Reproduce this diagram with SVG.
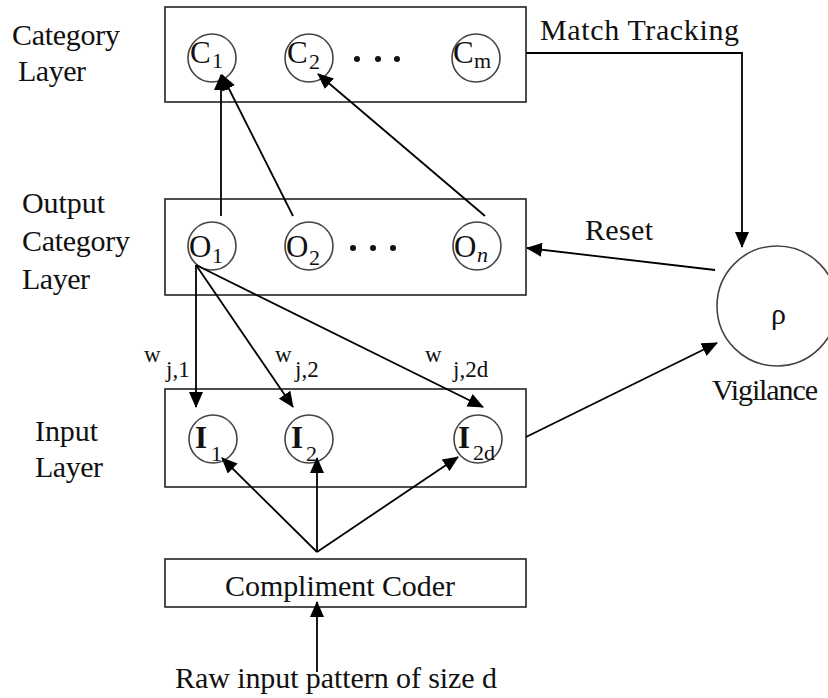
<svg xmlns="http://www.w3.org/2000/svg" width="828" height="698" viewBox="0 0 828 698">
<defs>
<marker id="ah" markerUnits="userSpaceOnUse" markerWidth="16" markerHeight="14" refX="15" refY="7" orient="auto">
<path d="M0,0 L16,7 L0,14 Z" fill="#000"/>
</marker>
<style>
text{font-family:'Liberation Serif','DejaVu Serif',serif;fill:#111}
.box{fill:none;stroke:#222;stroke-width:1.6}
.nd{fill:#fff;stroke:#444;stroke-width:1.6}
.t{font-size:30px}
.m{font-size:31px}
.s{font-size:22px}
.b{font-weight:bold}
.w{font-size:23px}
.ca{fill:none;stroke:#000;stroke-width:1.8;marker-end:url(#ah)}
</style>
</defs>
<rect width="828" height="698" fill="#fff"/>

<g id="labels">
<text class="t" x="12" y="45" textLength="108">Category</text>
<text class="t" x="18" y="81" textLength="68">Layer</text>
<text class="t" x="22" y="213" textLength="83">Output</text>
<text class="t" x="22" y="251" textLength="108">Category</text>
<text class="t" x="22" y="289" textLength="68">Layer</text>
<text class="t" x="35" y="441" textLength="63">Input</text>
<text class="t" x="35" y="477" textLength="68">Layer</text>
</g>

<g id="category-layer">
<rect class="box" x="165" y="7" width="361" height="95"/>
<g id="C1"><circle class="nd" cx="212" cy="58" r="24"/><text class="m" x="190" y="63">C</text><text class="s" x="212" y="68">1</text></g>
<g id="C2"><circle class="nd" cx="309" cy="58" r="24"/><text class="m" x="287" y="63">C</text><text class="s" x="309" y="69">2</text></g>
<g id="Cm"><circle class="nd" cx="476" cy="58" r="24"/><text class="m" x="453" y="63">C</text><text class="s" x="474" y="68">m</text></g>
<circle cx="357" cy="59" r="3" fill="#111"/><circle cx="378" cy="59" r="3" fill="#111"/><circle cx="397" cy="59" r="3" fill="#111"/>
</g>

<g id="output-layer">
<rect class="box" x="165" y="199" width="361" height="96"/>
<g id="O1"><circle class="nd" cx="212" cy="246" r="24"/><text class="m" x="189" y="257">O</text><text class="s" x="212" y="263">1</text></g>
<g id="O2"><circle class="nd" cx="309" cy="246" r="24"/><text class="m" x="286" y="257">O</text><text class="s" x="309" y="265">2</text></g>
<g id="On"><circle class="nd" cx="477" cy="246" r="24"/><text class="m" x="454" y="257">O</text><text class="s" x="477" y="262" font-style="italic">n</text></g>
<circle cx="353" cy="248" r="3" fill="#111"/><circle cx="373" cy="248" r="3" fill="#111"/><circle cx="393" cy="248" r="3" fill="#111"/>
</g>

<g id="input-layer">
<rect class="box" x="165" y="389" width="361" height="98"/>
<g id="I1"><circle class="nd" cx="213" cy="439" r="24"/><text class="m b" x="195" y="448">I</text><text class="s" x="211" y="461">1</text></g>
<g id="I2"><circle class="nd" cx="309" cy="439" r="24"/><text class="m b" x="291" y="448">I</text><text class="s" x="306" y="461">2</text></g>
<g id="I2d"><circle class="nd" cx="478" cy="439" r="24"/><text class="m b" x="458" y="448">I</text><text class="s" x="473" y="460">2d</text></g>
</g>

<g id="coder">
<rect class="box" x="165" y="559" width="361" height="48"/>
<text class="t" x="225" y="596" textLength="230">Compliment Coder</text>
</g>

<g id="vigilance">
<circle class="nd" cx="777" cy="306" r="60"/>
<text class="t" x="771" y="324" font-size="32">ρ</text>
<text class="t" x="712" y="400" textLength="106">Vigilance</text>
</g>

<g id="raw-input">
<text class="t" x="175" y="688" textLength="322">Raw input pattern of size d</text>
</g>

<g id="connectors">
<line class="ca" x1="221" y1="216" x2="221" y2="75"/>
<line class="ca" x1="293" y1="216" x2="222" y2="75"/>
<line class="ca" x1="485" y1="216" x2="318" y2="74"/>
<line class="ca" x1="196" y1="265" x2="196" y2="407"/>
<line class="ca" x1="196" y1="265" x2="293" y2="407"/>
<line class="ca" x1="196" y1="265" x2="483" y2="407"/>
<polyline class="ca" points="526,53 742,53 742,247"/>
<line class="ca" x1="715" y1="270" x2="527" y2="248"/>
<line class="ca" x1="526" y1="437" x2="717" y2="343"/>
<line class="ca" x1="317" y1="672" x2="317" y2="602"/>
<line class="ca" x1="317" y1="552" x2="222" y2="458"/>
<line class="ca" x1="317" y1="552" x2="317" y2="458"/>
<line class="ca" x1="317" y1="552" x2="458" y2="457"/>
</g>

<g id="connector-labels">
<text class="t" x="540" y="40" textLength="199">Match Tracking</text>
<text class="t" x="585" y="240" textLength="68">Reset</text>
<text class="w" x="144" y="362">w</text><text class="w" x="166" y="377">j,1</text>
<text class="w" x="275" y="362">w</text><text class="w" x="295" y="377">j,2</text>
<text class="w" x="425" y="362">w</text><text class="w" x="453" y="377">j,2d</text>
</g>
</svg>
